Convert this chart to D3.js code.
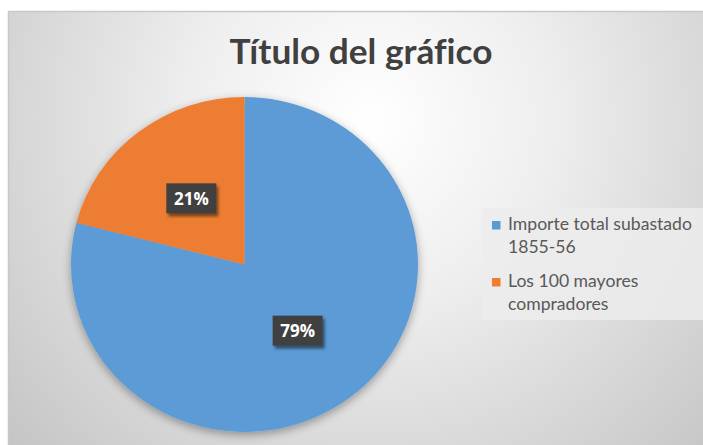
<!DOCTYPE html>
<html>
<head>
<meta charset="utf-8">
<script src="https://cdn.jsdelivr.net/npm/d3@7"></script>
<style>
  html, body { margin: 0; padding: 0; background: #ffffff; }
  svg { display: block; }
  text { font-variant-ligatures: none; font-feature-settings: "liga" 0; }
</style>
</head>
<body>
<svg id="chart" width="703" height="445"></svg>
<script>
// Chart data
const title = "Título del gráfico";
const categories = ["Importe total subastado 1855-56", "Los 100 mayores compradores"];
const values = [79, 21];
const legendLines = [["Importe total subastado", "1855-56"], ["Los 100 mayores", "compradores"]];
const colors = ["#5b9bd5", "#ed7d31"];

const W = 703, H = 445;
const svg = d3.select("#chart");
const defs = svg.append("defs");

// Background gradient of the chart area
const bg = defs.append("radialGradient").attr("id", "bgGrad")
  .attr("gradientUnits", "userSpaceOnUse")
  .attr("cx", 370).attr("cy", 120).attr("r", 520);
bg.append("stop").attr("offset", "0%").attr("stop-color", "#ffffff");
bg.append("stop").attr("offset", "35%").attr("stop-color", "#eeeeee");
bg.append("stop").attr("offset", "100%").attr("stop-color", "#c0c0c0");

// Soft shadow under the pie
const pieShadow = defs.append("filter").attr("id", "pieShadow")
  .attr("x", "-20%").attr("y", "-20%").attr("width", "140%").attr("height", "140%");
pieShadow.append("feGaussianBlur").attr("in", "SourceAlpha").attr("stdDeviation", 5).attr("result", "b");
pieShadow.append("feOffset").attr("in", "b").attr("dx", 0).attr("dy", 3).attr("result", "o");
pieShadow.append("feComponentTransfer").attr("in", "o").attr("result", "s")
  .append("feFuncA").attr("type", "linear").attr("slope", 0.35);
const pm = pieShadow.append("feMerge");
pm.append("feMergeNode").attr("in", "s");
pm.append("feMergeNode").attr("in", "SourceGraphic");

// Shadow for the data label boxes
const boxShadow = defs.append("filter").attr("id", "boxShadow")
  .attr("x", "-30%").attr("y", "-30%").attr("width", "170%").attr("height", "170%");
boxShadow.append("feGaussianBlur").attr("in", "SourceAlpha").attr("stdDeviation", 1.5).attr("result", "b");
boxShadow.append("feOffset").attr("in", "b").attr("dx", 2).attr("dy", 3).attr("result", "o");
boxShadow.append("feComponentTransfer").attr("in", "o").attr("result", "s")
  .append("feFuncA").attr("type", "linear").attr("slope", 0.5);
const bm = boxShadow.append("feMerge");
bm.append("feMergeNode").attr("in", "s");
bm.append("feMergeNode").attr("in", "SourceGraphic");

// Chart area
svg.append("rect").attr("x", 8).attr("y", 11).attr("width", W - 8).attr("height", H - 11)
  .attr("fill", "url(#bgGrad)");
svg.append("path").attr("d", `M8.5,${H} V11.5 H${W}`)
  .attr("fill", "none").attr("stroke", "#c8c8c8").attr("stroke-width", 1.5);

// Fit a text element to a target width
function fitWidth(sel, target) {
  const node = sel.node();
  const fs = parseFloat(sel.attr("font-size"));
  const w = node.getComputedTextLength();
  sel.attr("font-size", fs * target / w);
}

// Title
const t = svg.append("text").attr("x", 361).attr("y", 64)
  .attr("text-anchor", "middle")
  .attr("font-family", "Lato, 'Open Sans', sans-serif").attr("font-weight", 700)
  .attr("font-size", 34).attr("fill", "#404040").text(title);
fitWidth(t, 263);

// Pie
const cx = 244.5, cy = 264.5, R = 173.5, sy = 0.965;
const pie = d3.pie().sort(null).value(d => d);
const arcs = pie(values);
const arc = d3.arc().innerRadius(0).outerRadius(R);

const g = svg.append("g").attr("transform", `translate(${cx},${cy}) scale(1,${sy})`)
  .attr("filter", "url(#pieShadow)");
g.selectAll("path").data(arcs).join("path")
  .attr("d", arc)
  .attr("fill", (d, i) => colors[i]);

// Data labels
const labels = svg.append("g");
arcs.forEach((d, i) => {
  const [x, y] = arc.centroid(d);
  const lx = cx + x, ly = cy + y * sy;
  const lg = labels.append("g").attr("transform", `translate(${lx},${ly})`);
  lg.append("rect").attr("x", -25).attr("y", -15).attr("width", 50).attr("height", 30)
    .attr("fill", "#404040").attr("filter", "url(#boxShadow)");
  lg.append("text").attr("x", 0).attr("y", 6.5).attr("text-anchor", "middle")
    .attr("font-family", "'Open Sans', sans-serif").attr("font-weight", 700)
    .attr("font-size", 17).attr("fill", "#ffffff")
    .text(values[i] + "%");
});

// Legend
const leg = svg.append("g");
leg.append("rect").attr("x", 482).attr("y", 208).attr("width", W - 482).attr("height", 112)
  .attr("fill", "#ececec").attr("fill-opacity", 0.85);
const itemY = [230, 287];
legendLines.forEach((lines, i) => {
  leg.append("rect").attr("x", 492).attr("y", itemY[i] - 9).attr("width", 8.5).attr("height", 8.5)
    .attr("fill", colors[i]);
  lines.forEach((ln, j) => {
    const tx = leg.append("text").attr("x", 508).attr("y", itemY[i] + j * 22.5)
      .attr("font-family", "Lato, 'Open Sans', sans-serif")
      .attr("font-size", 17).attr("fill", "#595959").text(ln);
    if (i === 0 && j === 0) fitWidth(tx, 184);
  });
});
// Keep all legend text the same size as the first line
const fsLegend = leg.select("text").attr("font-size");
leg.selectAll("text").attr("font-size", fsLegend);
</script>
</body>
</html>
